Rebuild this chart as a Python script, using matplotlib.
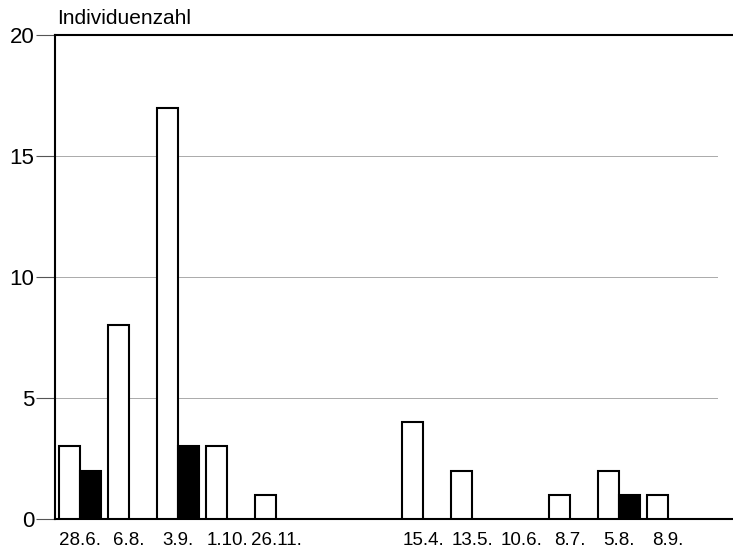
import matplotlib
matplotlib.use("Agg")
import matplotlib.pyplot as plt
import numpy as np

plt.rcParams['font.family'] = ['Liberation Sans', 'DejaVu Sans']

# dates (two empty slots between the seasons)
dates = ['28.6.', '6.8.', '3.9.', '1.10.', '26.11.', '', '',
         '15.4.', '13.5.', '10.6.', '8.7.', '5.8.', '8.9.']
white_vals = [3, 8, 17, 3, 1, 0, 0, 4, 2, 0, 1, 2, 1]
black_vals = [2, 0, 3, 0, 0, 0, 0, 0, 0, 0, 0, 1, 0]
has_data = [True, True, True, True, True, False, False,
            True, True, True, True, True, True]

fig = plt.figure(figsize=(7.33, 5.51), dpi=100)
ax = fig.add_axes([0.075, 0.058, 0.9236, 0.8785])

x = np.arange(len(dates))
w = 0.43
for i in x:
    if not has_data[i]:
        continue
    if white_vals[i] > 0:
        ax.bar(i, white_vals[i], width=-w, align='edge', color='white',
               edgecolor='black', linewidth=1.5, zorder=3)
    if black_vals[i] > 0:
        ax.bar(i, black_vals[i], width=w, align='edge', color='black',
               edgecolor='black', linewidth=1.5, zorder=3)

for yv in [5, 10, 15]:
    ax.axhline(yv, xmax=0.978, color='#aaaaaa', linewidth=0.7, zorder=1)

ax.set_xlim(-0.51, 13.3)
ax.set_ylim(0, 20)
ax.set_yticks([0, 5, 10, 15, 20])
ax.set_yticklabels(['0', '5', '10', '15', '20'], fontsize=16)
ax.set_xticks(x)
ax.set_xticklabels(dates, fontsize=13.5)
ax.tick_params(axis='x', length=0, pad=9)
ax.tick_params(axis='y', length=14, width=0.8, pad=1, color='#555555')

ax.spines['right'].set_visible(False)
ax.spines['left'].set_linewidth(1.5)
ax.spines['top'].set_linewidth(1.5)
ax.spines['bottom'].set_linewidth(1.5)

ax.text(0.003, 1.015, 'Individuenzahl', transform=ax.transAxes,
        fontsize=15, ha='left', va='bottom')

fig.savefig('out.png', dpi=100)
